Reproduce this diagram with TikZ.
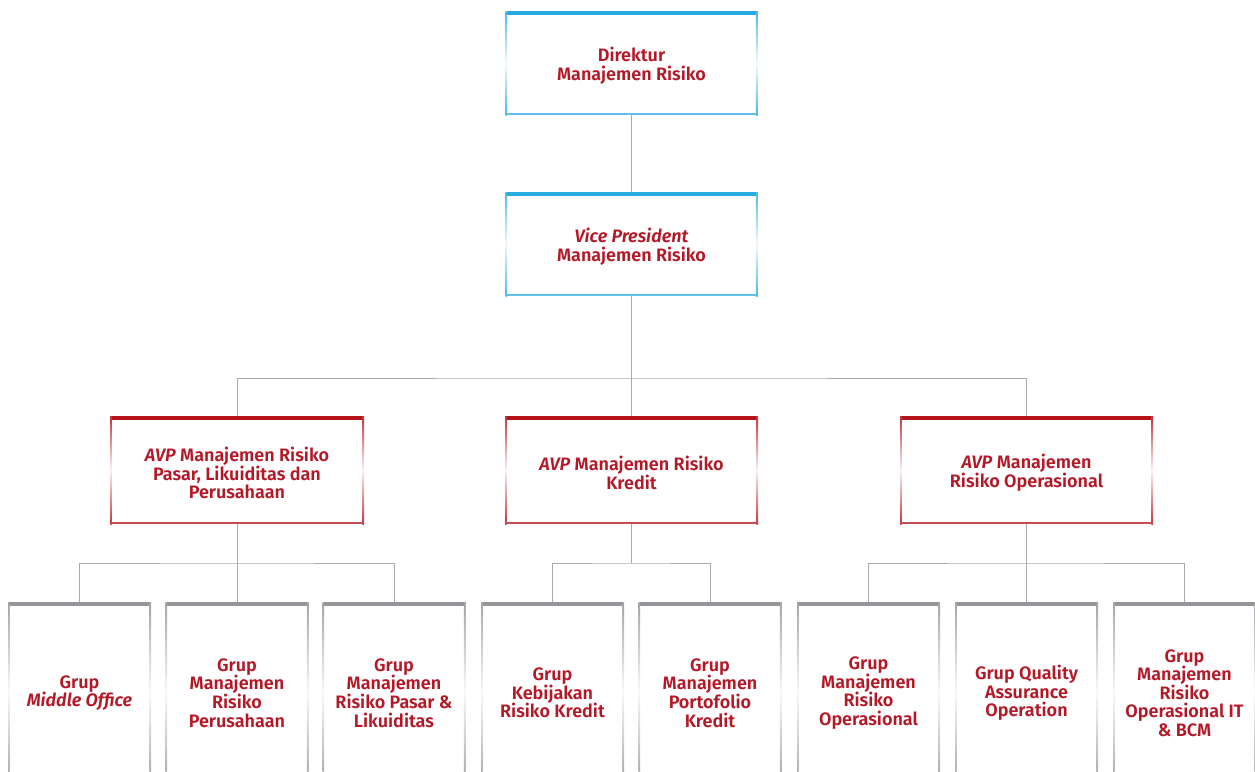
\documentclass[tikz,border=0pt]{standalone}
\usepackage{fontspec}
\setmainfont{Fira Sans}[BoldFont={Fira Sans SemiBold},BoldItalicFont={Fira Sans SemiBold Italic}]

\definecolor{risktext}{RGB}{180,24,38}
\definecolor{boxblue}{RGB}{41,171,226}
\definecolor{boxred}{RGB}{181,18,27}
\definecolor{boxgray}{RGB}{147,149,152}
\definecolor{linkgray}{RGB}{167,169,172}

% top bar plus fading side edges of a unit box
\newcommand{\boxedges}[1]{%
  \fill[#1] (path picture bounding box.north west) rectangle ([yshift=-3.5pt]path picture bounding box.north east);
  \shade[top color=#1!85, bottom color=#1!85, middle color=#1!6] (path picture bounding box.north west) rectangle ([xshift=1.6pt]path picture bounding box.south west);
  \shade[top color=#1!85, bottom color=#1!85, middle color=#1!6] ([xshift=-1.6pt]path picture bounding box.north east) rectangle (path picture bounding box.south east);
}

\tikzset{
  boxbase/.style={fill=white, align=center, text=risktext, inner sep=0pt,
    font=\fontsize{18}{18.6}\selectfont\bfseries},
  boxtext/.style={boxbase, fill=none, yshift=-3pt},
  openbox/.style={boxbase, minimum width=143pt, minimum height=182pt,
    path picture={\boxedges{#1}}},
  closedbox/.style={boxbase, minimum width=252pt, minimum height=104pt,
    path picture={\boxedges{#1}
      \fill[#1!75] ([yshift=1.6pt]path picture bounding box.south west) rectangle (path picture bounding box.south east);}},
  link/.style={draw=linkgray, line width=1pt},
}

\begin{document}
\begin{tikzpicture}[x=1pt,y=-1pt]
  \useasboundingbox (0,0) rectangle (1255,771);
  \clip (0,0) rectangle (1255,771);

  \coordinate (busV) at (631.5,378);
  \coordinate (busP) at (237,563);
  \coordinate (busK) at (631.5,563);
  \coordinate (busO) at (1026.5,563);

  % direksi
  \node[closedbox=boxblue, label={[boxtext]center:{Direktur\\Manajemen Risiko}}] (dir) at (631.5,63) {};
  \node[closedbox=boxblue, label={[boxtext]center:{\textit{Vice President}\\Manajemen Risiko}}] (vp) at (631.5,244) {};

  % AVP
  \node[closedbox=boxred, minimum width=254pt, minimum height=108pt,
    label={[boxtext]center:{\textit{AVP} Manajemen Risiko\\Pasar, Likuiditas dan\\Perusahaan}}] (avpP) at (237,470) {};
  \node[closedbox=boxred, minimum width=253pt, minimum height=108pt,
    label={[boxtext]center:{\textit{AVP} Manajemen Risiko\\Kredit}}] (avpK) at (631.5,470) {};
  \node[closedbox=boxred, minimum width=253pt, minimum height=108pt,
    label={[boxtext]center:{\textit{AVP} Manajemen\\Risiko Operasional}}] (avpO) at (1026.5,470) {};

  % grup
  \node[openbox=boxgray] (gMO) at (79.5,693) {Grup\\\textit{Middle Office}};
  \node[openbox=boxgray] (gRP) at (237,693) {Grup\\Manajemen\\Risiko\\Perusahaan};
  \node[openbox=boxgray] (gLP) at (394,693) {Grup\\Manajemen\\Risiko Pasar \&\\Likuiditas};
  \node[openbox=boxgray] (gKR) at (552.5,693) {Grup\\Kebijakan\\Risiko Kredit};
  \node[openbox=boxgray] (gPK) at (710,693) {Grup\\Manajemen\\Portofolio\\Kredit};
  \node[openbox=boxgray] (gRO) at (868.5,693) {Grup\\Manajemen\\Risiko\\Operasional};
  \node[openbox=boxgray] (gQA) at (1026.5,693) {Grup Quality\\Assurance\\Operation};
  \node[openbox=boxgray] (gIT) at (1184.5,693) {Grup\\Manajemen\\Risiko\\Operasional IT\\\& BCM};

  % garis
  \draw[link] (dir) -- (vp);
  \draw[link] (vp) -- (avpK);
  \draw[link] (avpP.north) |- (busV) -| (avpO.north);
  \draw[link] (avpP) -- (gRP);
  \draw[link] (gMO.north) |- (busP) -| (gLP.north);
  \draw[link] (avpK) -- (busK);
  \draw[link] (gKR.north) |- (busK) -| (gPK.north);
  \draw[link] (avpO) -- (gQA);
  \draw[link] (gRO.north) |- (busO) -| (gIT.north);
\end{tikzpicture}
\end{document}
